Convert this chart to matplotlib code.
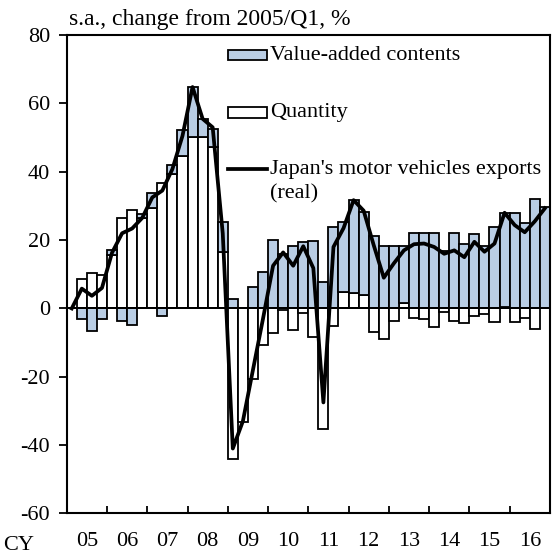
import numpy as np
import matplotlib
matplotlib.use("Agg")
import matplotlib.pyplot as plt
from matplotlib.patches import Rectangle

plt.rcParams["font.family"] = ["Liberation Serif", "DejaVu Serif"]
plt.rcParams["axes.unicode_minus"] = False

# quarterly, 2005/Q1 .. 2016/Q4 (change from 2005/Q1, %)
quantity = [
    0.0, 8.5, 10.4, 9.9, 15.6, 26.5, 28.9, 26.5,
    29.5, 36.8, 39.4, 44.5, 50.3, 50.3, 47.3, 16.6,
    -44.0, -33.2, -20.5, -10.8, -7.2, -0.5, -6.2, -1.2,
    -8.3, -35.3, -5.2, 4.9, 4.4, 3.9, -7.0, -9.0,
    -3.7, 1.5, -2.9, -3.1, -5.5, -1.1, -3.8, -4.3,
    -2.1, -1.6, -4.1, 0.3, -4.1, -2.9, -5.9, 0.0,
]
value_added = [
    0.0, -3.0, -6.6, -3.2, 1.5, -3.8, -4.9, 1.0,
    4.2, -2.3, 2.6, 7.8, 14.6, 5.2, 5.1, 8.8,
    2.8, 0.0, 6.2, 10.6, 19.9, 16.0, 18.4, 19.4,
    19.7, 7.7, 23.7, 20.5, 27.4, 24.2, 21.3, 18.3,
    18.3, 16.8, 22.0, 22.0, 22.0, 16.9, 22.0, 19.0,
    21.7, 18.4, 23.9, 27.5, 27.8, 25.1, 31.9, 29.6,
]
exports_real = [
    0.0, 5.8, 3.7, 6.0, 16.3, 22.0, 23.4, 26.5,
    32.5, 34.5, 40.8, 50.5, 64.8, 55.5, 53.0, 22.0,
    -41.0, -33.0, -18.0, -3.0, 12.5, 16.4, 12.5, 18.2,
    11.8, -27.5, 18.0, 23.5, 31.7, 28.6, 18.5, 9.0,
    13.2, 17.0, 18.8, 19.0, 18.0, 16.0, 17.0, 15.0,
    19.5, 16.6, 19.0, 28.0, 24.4, 22.3, 25.5, 29.3,
]
years = ["05", "06", "07", "08", "09", "10", "11", "12", "13", "14", "15", "16"]

BLUE = "#b9cde4"
FS = 16
LW = 2.7

q = np.array(quantity)
va = np.array(value_added)
x = np.arange(len(q))
# value-added stacks on quantity when both have the same sign
va_bottom = np.where(np.sign(va) == np.sign(q), q, 0.0)

fig = plt.figure(figsize=(5.56, 5.55), dpi=100)
ax = fig.add_axes([0.12, 0.0748, 0.869, 0.862])

ax.bar(x, q, width=1.0, color="white", edgecolor="black", linewidth=1.3, zorder=2)
ax.bar(x, va, width=1.0, bottom=va_bottom, color=BLUE, edgecolor="black",
       linewidth=1.3, zorder=2)
ax.axhline(0, color="black", linewidth=1.4, zorder=3)
ax.plot(x, exports_real, color="black", linewidth=LW, solid_joinstyle="round", zorder=4)

ax.set_xlim(-0.5, len(q) - 0.5)
ax.set_ylim(-60, 80)
ax.set_yticks(np.arange(-60, 81, 20))
ax.tick_params(axis="y", direction="out", length=6, width=1.3, labelsize=FS, pad=6)

ax.set_xticks(np.arange(-0.5, len(q), 4))
ax.set_xticklabels([])
ax.set_xticks(np.arange(1.5, len(q), 4), minor=True)
ax.set_xticklabels(years, minor=True)
ax.tick_params(axis="x", which="major", direction="in", length=5, width=1.3)
ax.tick_params(axis="x", which="minor", length=0, labelsize=FS, pad=13)
for s in ax.spines.values():
    s.set_linewidth(1.5)

ax.text(-0.068, -0.047, "CY", transform=ax.transAxes, fontsize=FS,
        ha="right", va="top")
ax.text(0.005, 1.01, "s.a., change from 2005/Q1, %", transform=ax.transAxes,
        fontsize=17, ha="left", va="bottom")

# legend drawn by hand
lx0, lw = 0.333, 0.082
ax.add_patch(Rectangle((lx0, 0.947), lw, 0.022, transform=ax.transAxes,
                       facecolor=BLUE, edgecolor="black", linewidth=1.3, clip_on=False))
ax.text(0.421, 0.958, "Value-added contents", transform=ax.transAxes,
        fontsize=FS, ha="left", va="center")
ax.add_patch(Rectangle((lx0, 0.827), lw, 0.022, transform=ax.transAxes,
                       facecolor="white", edgecolor="black", linewidth=1.3, clip_on=False))
ax.text(0.421, 0.838, "Quantity", transform=ax.transAxes,
        fontsize=FS, ha="left", va="center")
ax.plot([lx0, lx0 + lw], [0.72, 0.72], transform=ax.transAxes,
        color="black", linewidth=LW)
ax.text(0.421, 0.72, "Japan's motor vehicles exports", transform=ax.transAxes,
        fontsize=FS, ha="left", va="center")
ax.text(0.421, 0.668, "(real)", transform=ax.transAxes,
        fontsize=FS, ha="left", va="center")

fig.savefig("out.png", dpi=100)
plt.close(fig)
